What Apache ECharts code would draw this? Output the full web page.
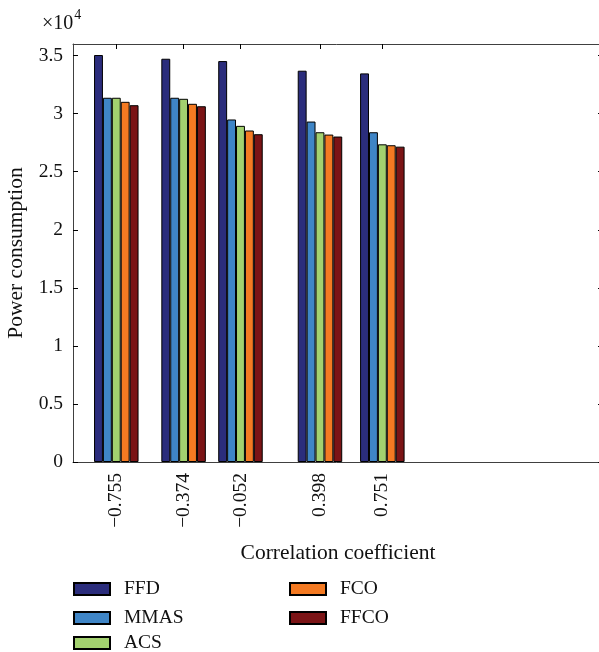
<!DOCTYPE html>
<html>
<head>
<meta charset="utf-8">
<script src="https://cdn.jsdelivr.net/npm/echarts@6/dist/echarts.min.js"></script>
<style>
html,body{margin:0;padding:0;background:#fff;}
#chart{width:599px;height:652px;}
</style>
</head>
<body>
<div id="chart"></div>
<script>
var correlation = [-0.755, -0.374, -0.052, 0.398, 0.751];
var seriesNames = ['FFD', 'MMAS', 'ACS', 'FCO', 'FFCO'];
var FFD  = [35050, 34730, 34530, 33700, 33470];
var MMAS = [31370, 31370, 29500, 29320, 28400];
var ACS  = [31370, 31280, 28950, 28400, 27360];
var FCO  = [31020, 30850, 28550, 28200, 27280];
var FFCO = [30730, 30640, 28230, 28030, 27160];
var yTicks = [0, 5000, 10000, 15000, 20000, 25000, 30000, 35000];

var values = [FFD, MMAS, ACS, FCO, FFCO];
var colors = ['#2b2d7c', '#3f85c6', '#a3d16f', '#f47a22', '#7b1416'];
var FONT = '"Liberation Serif", "DejaVu Serif", serif';

var chart = echarts.init(document.getElementById('chart'));

var series = seriesNames.map(function (name, i) {
  return {
    name: name,
    type: 'bar',
    xAxisIndex: 0,
    yAxisIndex: 0,
    barWidth: 8.9,
    barGap: '0%',
    itemStyle: { color: colors[i], borderColor: '#000', borderWidth: 1 },
    emphasis: { disabled: true },
    data: correlation.map(function (c, j) { return [c, values[i][j]]; })
  };
});

// legend positions: [left, top]
var legendPos = [[73, 579], [73, 608], [73, 633], [289, 579], [289, 608]];
var legends = seriesNames.map(function (name, i) {
  return {
    orient: 'vertical', left: legendPos[i][0], top: legendPos[i][1], padding: 0,
    data: [name],
    icon: 'rect', itemWidth: 36, itemHeight: 12,
    textStyle: { fontFamily: FONT, fontSize: 19.5, color: '#111', lineHeight: 18, padding: [0, 0, 0, 9] },
    selectedMode: false
  };
});

var option = {
  animation: false,
  backgroundColor: '#fff',
  grid: { left: 73, top: 44, width: 530, height: 418, containLabel: false, outerBoundsMode: 'none' },
  xAxis: [{
    type: 'value', position: 'bottom', min: -1, max: 2,
    splitLine: { show: false },
    axisLine: { show: true, onZero: false, lineStyle: { color: '#404040', width: 1 } },
    axisTick: { show: true, inside: true, length: 5, customValues: correlation, lineStyle: { color: '#000' } },
    axisLabel: {
      show: true, rotate: 90, margin: 11, customValues: correlation,
      fontFamily: FONT, fontSize: 19.5, color: '#111',
      formatter: function (v) { return String(v).replace('-', '\u2212'); }
    },
    name: 'Correlation coefficient', nameLocation: 'middle', nameGap: 80,
    nameTextStyle: { fontFamily: FONT, fontSize: 21.5, color: '#111' }
  }, {
    type: 'value', position: 'top', min: -1, max: 2,
    splitLine: { show: false },
    axisLine: { show: true, onZero: false, lineStyle: { color: '#404040', width: 1 } },
    axisTick: { show: true, inside: true, length: 5, customValues: correlation, lineStyle: { color: '#000' } },
    axisLabel: { show: false }
  }],
  yAxis: [{
    type: 'value', position: 'left', min: 0, max: 36000, interval: 5000,
    splitLine: { show: false },
    axisLine: { show: true, onZero: false, lineStyle: { color: '#404040', width: 1 } },
    axisTick: { show: true, inside: true, length: 5, customValues: yTicks, lineStyle: { color: '#000' } },
    axisLabel: {
      show: true, margin: 10, customValues: yTicks,
      fontFamily: FONT, fontSize: 19.5, color: '#111',
      formatter: function (v) { return String(v / 10000); }
    },
    name: 'Power consumption', nameLocation: 'middle', nameGap: 44,
    nameTextStyle: { fontFamily: FONT, fontSize: 21.5, color: '#111' }
  }, {
    type: 'value', position: 'right', min: 0, max: 36000, interval: 5000,
    splitLine: { show: false },
    axisLine: { show: true, onZero: false, lineStyle: { color: '#404040', width: 1 } },
    axisTick: { show: true, inside: true, length: 5, customValues: yTicks, lineStyle: { color: '#000' } },
    axisLabel: { show: false }
  }],
  legend: legends,
  graphic: [{
    type: 'text', left: 42, top: 8,
    style: {
      text: '{a|\u00d710}{b|4}',
      rich: {
        a: { fontFamily: FONT, fontSize: 20, fill: '#111', padding: [6, 0, 0, 0] },
        b: { fontFamily: FONT, fontSize: 14, fill: '#111', verticalAlign: 'top', padding: [0, 0, 9, 1] }
      }
    }
  }],
  series: series
};

chart.setOption(option);
</script>
</body>
</html>
